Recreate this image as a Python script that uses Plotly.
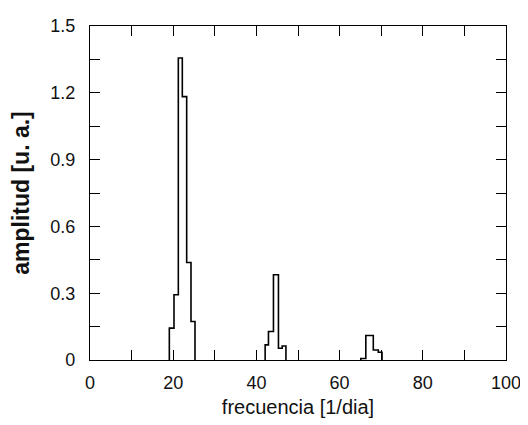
import plotly.graph_objects as go

# ---- data (bin edges in 1/dia, amplitudes in u.a.) ----
cluster1_edges = [19.07, 20.19, 21.23, 22.19, 23.24, 24.28, 25.24]
cluster1_amp = [0.143, 0.293, 1.356, 1.183, 0.438, 0.173]

cluster2_edges = [42.1, 42.9, 44.1, 45.3, 46.2, 47.1]
cluster2_amp = [0.068, 0.128, 0.383, 0.053, 0.063]

cluster3_edges = [65.1, 66.3, 68.1, 69.3, 70.2]
cluster3_amp = [0.007, 0.11, 0.045, 0.035]

x_tickvals = [0, 10, 20, 30, 40, 50, 60, 70, 80, 90, 100]
x_ticktext = ["0", "", "20", "", "40", "", "60", "", "80", "", "100"]
y_tickvals = [0, 0.15, 0.3, 0.45, 0.6, 0.75, 0.9, 1.05, 1.2, 1.35, 1.5]
y_ticktext = ["0", "", "0.3", "", "0.6", "", "0.9", "", "1.2", "", "1.5"]

x_title = "frecuencia [1/dia]"
y_title = "amplitud [u. a.]"

fig = go.Figure()

for edges, amps in [(cluster1_edges, cluster1_amp),
                    (cluster2_edges, cluster2_amp),
                    (cluster3_edges, cluster3_amp)]:
    xs = [edges[0]] + list(edges)
    ys = [0] + list(amps) + [0]
    fig.add_trace(go.Scatter(x=xs, y=ys, mode="lines", line_shape="hv",
                             line=dict(color="black", width=1.6),
                             showlegend=False, hoverinfo="skip"))

axis_common = dict(showline=True, linecolor="black", linewidth=1.3, mirror="ticks",
                   ticks="inside", ticklen=10, tickwidth=1.2, tickcolor="black",
                   showgrid=False, zeroline=False, automargin=False,
                   tickfont=dict(family="Liberation Sans, Arial", size=18, color="#111"))

fig.update_xaxes(range=[0, 100], tickmode="array", tickvals=x_tickvals, ticktext=x_ticktext,
                 title=dict(text=x_title, font=dict(family="Liberation Sans, Arial", size=20, color="#111"),
                            standoff=8),
                 ticklabelstandoff=6,
                 **axis_common)
fig.update_yaxes(range=[0, 1.5], tickmode="array", tickvals=y_tickvals, ticktext=y_ticktext,
                 title=dict(text="<b>" + y_title + "</b>",
                            font=dict(family="Liberation Sans, Arial", size=23, color="#111"),
                            standoff=16),
                 ticklabelstandoff=10,
                 **axis_common)

# the page body adds an ~8px offset, so the figure is sized to fit the window
fig.update_layout(width=520, height=417, margin=dict(l=82, r=22, t=18, b=65),
                  plot_bgcolor="white", paper_bgcolor="white")

fig.write_html("out.html")
